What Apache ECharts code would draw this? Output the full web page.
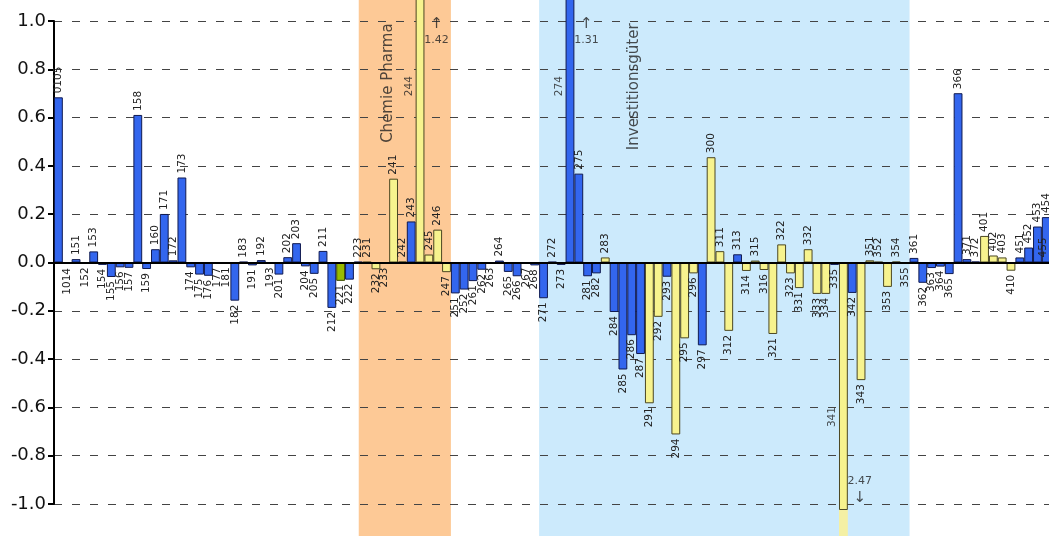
<!DOCTYPE html>
<html>
<head>
<meta charset="utf-8">
<script src="https://cdn.jsdelivr.net/npm/echarts@6/dist/echarts.min.js"></script>
<style>
  html, body { margin: 0; padding: 0; background: #ffffff; }
  #chart { width: 1049px; height: 536px; }
</style>
</head>
<body>
<div id="chart"></div>
<script>
// Branch codes along the x axis
const categories = [
  '0105', '1014', '151', '152', '153', '154', '155', '156', '157', '158',
  '159', '160', '171', '172', '173', '174', '175', '176', '177', '181',
  '182', '183', '191', '192', '193', '201', '202', '203', '204', '205',
  '211', '212', '221', '222', '223', '231', '232', '233', '241', '242',
  '243', '244', '245', '246', '247', '251', '252', '261', '262', '263',
  '264', '265', '266', '267', '268', '271', '272', '273', '274', '275',
  '281', '282', '283', '284', '285', '286', '287', '291', '292', '293',
  '294', '295', '296', '297', '300', '311', '312', '313', '314', '315',
  '316', '321', '322', '323', '331', '332', '333', '334', '335', '341',
  '342', '343', '351', '352', '353', '354', '355', '361', '362', '363',
  '364', '365', '366', '371', '372', '401', '402', '403', '410', '451',
  '452', '453', '454', '455'
];

// Value per branch
const values = [
  0.684, -0.006, 0.014, -0.003, 0.046, -0.010, -0.060, -0.020, -0.022, 0.611,
  -0.027, 0.055, 0.201, 0.009, 0.352, -0.020, -0.050, -0.055, -0.004, -0.003,
  -0.158, 0.003, -0.012, 0.010, -0.003, -0.050, 0.022, 0.080, -0.016, -0.047,
  0.048, -0.188, -0.076, -0.071, 0.003, 0.003, -0.028, -0.004, 0.347, 0.004,
  0.170, 1.42, 0.033, 0.136, -0.040, -0.128, -0.112, -0.077, -0.030, -0.004,
  0.008, -0.039, -0.057, -0.004, -0.012, -0.148, 0.003, -0.010, 1.31, 0.368,
  -0.057, -0.045, 0.021, -0.205, -0.443, -0.301, -0.379, -0.583, -0.225, -0.059,
  -0.712, -0.314, -0.045, -0.343, 0.436, 0.047, -0.283, 0.034, -0.035, 0.008,
  -0.031, -0.296, 0.075, -0.045, -0.106, 0.055, -0.130, -0.130, -0.010, -2.47,
  -0.126, -0.487, 0.009, 0.003, -0.101, 0.004, -0.003, 0.019, -0.084, -0.023,
  -0.017, -0.048, 0.701, 0.014, 0.004, 0.110, 0.029, 0.021, -0.034, 0.021,
  0.062, 0.149, 0.188, 0.004
];

// Bar group per branch: b = blue, y = yellow, g = green
const groups = [
  'b', 'b', 'b', 'b', 'b', 'b', 'b', 'b', 'b', 'b',
  'b', 'b', 'b', 'b', 'b', 'b', 'b', 'b', 'b', 'b',
  'b', 'b', 'b', 'b', 'b', 'b', 'b', 'b', 'b', 'b',
  'b', 'b', 'g', 'b', 'b', 'y', 'y', 'y', 'y', 'y',
  'b', 'y', 'y', 'y', 'y', 'b', 'b', 'b', 'b', 'b',
  'b', 'b', 'b', 'b', 'b', 'b', 'b', 'b', 'b', 'b',
  'b', 'b', 'y', 'b', 'b', 'b', 'b', 'y', 'y', 'b',
  'y', 'y', 'y', 'b', 'y', 'y', 'y', 'b', 'y', 'y',
  'y', 'y', 'y', 'y', 'y', 'y', 'y', 'y', 'b', 'y',
  'b', 'y', 'y', 'y', 'y', 'y', 'y', 'b', 'b', 'b',
  'b', 'b', 'b', 'b', 'b', 'y', 'y', 'y', 'y', 'b',
  'b', 'b', 'b', 'b'
];

// Highlighted sector bands
const bandNames = ['Chemie Pharma', 'Investitionsgüter'];
const bandFrom = ['231', '271'];
const bandTo = ['247', '355'];

const N = categories.length;
const FONT = 'DejaVu Sans';
const LOW = -1.025;            // bars are solid down to here, faded beyond
const fill = { b: '#3366ee', y: '#f7f38e', g: '#99bb00' };
const edge = { b: '#101a50', y: '#4b4722', g: '#394800' };
const tail = { b: '#9fb6f6', y: '#f4f0a4', g: '#c9dc80' };
const bandFill = ['#fdc996', '#cceafc'];

const chart = echarts.init(document.getElementById('chart'), null, { renderer: 'canvas' });

const mainData = values.map((v, i) => {
  const k = groups[i];
  const over = Math.abs(v) > 1;
  return {
    value: Math.max(v, LOW),
    itemStyle: { color: fill[k], borderColor: edge[k], borderWidth: 1 },
    label: over ? { show: false }
      : (v >= 0 ? { position: 'top', align: 'left' } : { position: 'bottom', align: 'right' })
  };
});

const tailData = values.map((v, i) =>
  v < LOW ? { value: v - LOW, itemStyle: { color: tail[groups[i]] } } : '-');

const overIdx = values.map((v, i) => i).filter(i => Math.abs(values[i]) > 1);

// value readouts for bars running past the axis
const arrowData = overIdx.map(i => {
  const v = values[i];
  const txt = Math.abs(v).toFixed(2);
  return {
    value: [i + 2.36, v > 0 ? 0.96 : -0.945],
    label: { formatter: v > 0 ? '{a|\u2191}\n{n|' + txt + '}' : '{n|' + txt + '}\n{a|\u2193}' }
  };
});

// code labels for those long bars sit beside the bar
const overNameData = overIdx.map(i => ({
  value: [i - 0.75, values[i] > 0 ? 0.73 : -0.64],
  label: { formatter: categories[i] }
}));

const bandLead = [0.45, 0];
const bandData = bandFrom.map((f, j) => [
  categories.indexOf(f) - bandLead[j],
  categories.indexOf(bandTo[j]) + 1
]);
const titleShift = [3.3, 10.75];
const titleData = bandData.map((b, j) => ({
  value: [b[0] + titleShift[j], 0.99],
  label: { formatter: bandNames[j] }
}));

const option = {
  backgroundColor: '#ffffff',
  animation: false,
  // plot runs a little past the right edge of the canvas
  grid: {
    left: 54, right: -10.5, top: 21, bottom: 32,
    containLabel: false,
    outerBoundsMode: 'none'
  },
  xAxis: [
    {
      type: 'category',
      data: categories,
      z: 4,
      axisLine: { show: true, onZero: true, lineStyle: { color: '#000', width: 2 } },
      axisTick: { show: false },
      axisLabel: { show: false },
      splitLine: { show: false }
    },
    { type: 'value', min: 0, max: N, show: false }
  ],
  yAxis: {
    type: 'value',
    min: -1,
    max: 1,
    interval: 0.2,
    z: 1,
    axisLine: { show: true, lineStyle: { color: '#000', width: 2 } },
    axisTick: { show: true, length: 6, lineStyle: { color: '#000', width: 2 } },
    axisLabel: {
      formatter: v => v.toFixed(1),
      fontSize: 18,
      fontFamily: FONT,
      color: '#111',
      margin: 8
    },
    splitLine: { show: true, lineStyle: { type: [8, 10], color: '#444', width: 1 } }
  },
  series: [
    {
      type: 'custom',
      name: 'bands',
      xAxisIndex: 1,
      z: 0,
      silent: true,
      clip: false,
      encode: { x: [0, 1] },
      data: bandData,
      renderItem: (params, api) => {
        const x0 = api.coord([api.value(0), 0])[0];
        const x1 = api.coord([api.value(1), 0])[0];
        return {
          type: 'rect',
          shape: { x: x0, y: 0, width: x1 - x0, height: api.getHeight() },
          style: { fill: bandFill[params.dataIndex] }
        };
      }
    },
    {
      type: 'bar',
      name: 'main',
      stack: 'v',
      z: 2,
      clip: false,
      barCategoryGap: '0%',
      data: mainData,
      label: {
        show: true,
        rotate: 90,
        verticalAlign: 'middle',
        distance: 4,
        fontSize: 10.5,
        fontFamily: FONT,
        color: '#222',
        formatter: p => p.name
      },
      // keep a code whose bar sits past the right edge readable
      labelLayout: p => {
        const W = chart.getWidth();
        const cx = p.rect.x + p.rect.width / 2;
        if (cx > W) return { x: W - 6 };
        return {};
      }
    },
    {
      type: 'bar',
      name: 'tail',
      stack: 'v',
      z: 2,
      clip: false,
      barCategoryGap: '0%',
      data: tailData
    },
    {
      type: 'scatter',
      name: 'readout',
      xAxisIndex: 1,
      z: 3,
      silent: true,
      clip: false,
      symbolSize: 1,
      itemStyle: { color: 'rgba(0,0,0,0)' },
      data: arrowData,
      label: {
        show: true,
        position: 'inside',
        align: 'center',
        verticalAlign: 'middle',
        color: '#222',
        rich: {
          a: { fontSize: 15, fontFamily: FONT, lineHeight: 19, align: 'center' },
          n: { fontSize: 11, fontFamily: FONT, lineHeight: 14, align: 'center' }
        }
      }
    },
    {
      type: 'scatter',
      name: 'longBarCodes',
      xAxisIndex: 1,
      z: 3,
      silent: true,
      clip: false,
      symbolSize: 1,
      itemStyle: { color: 'rgba(0,0,0,0)' },
      data: overNameData,
      label: {
        show: true,
        position: 'inside',
        rotate: 90,
        align: 'center',
        verticalAlign: 'middle',
        fontSize: 10.5,
        fontFamily: FONT,
        color: '#222'
      }
    },
    {
      type: 'scatter',
      name: 'bandTitles',
      xAxisIndex: 1,
      z: 3,
      silent: true,
      clip: false,
      symbolSize: 1,
      itemStyle: { color: 'rgba(0,0,0,0)' },
      data: titleData,
      label: {
        show: true,
        position: 'inside',
        rotate: 90,
        align: 'right',
        verticalAlign: 'middle',
        fontSize: 15,
        fontFamily: FONT,
        color: '#222'
      }
    }
  ]
};

chart.setOption(option);
</script>
</body>
</html>
